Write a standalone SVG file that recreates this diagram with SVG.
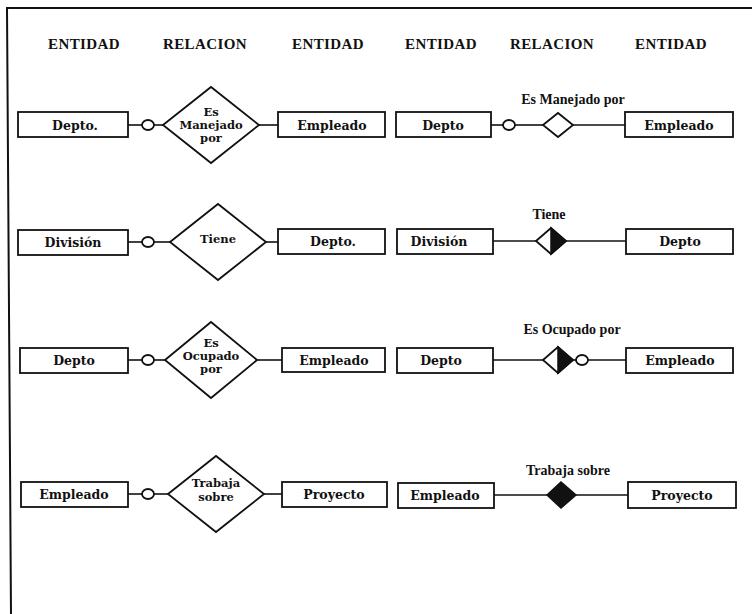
<svg xmlns="http://www.w3.org/2000/svg" width="752" height="614" viewBox="0 0 752 614">
  <style>
    .hdr { font-family: "Liberation Serif", "Times New Roman", serif; font-weight: bold; font-size: 15px; fill: #111; text-anchor: middle; letter-spacing: 0.4px; }
    .lbl { font-family: "DejaVu Serif", "Liberation Serif", serif; font-weight: bold; font-size: 12.5px; fill: #111; text-anchor: middle; }
    .dlbl { font-family: "DejaVu Serif", "Liberation Serif", serif; font-weight: bold; font-size: 11.5px; fill: #111; text-anchor: middle; }
    .rlbl { font-family: "Liberation Serif", "Times New Roman", serif; font-weight: bold; font-size: 14px; fill: #111; text-anchor: middle; }
    .box { fill: #fff; stroke: #111; stroke-width: 1.8; }
    .rel { fill: #fff; stroke: #111; stroke-width: 1.8; stroke-linejoin: miter; }
    .solid { fill: #111; stroke: #111; stroke-width: 1.5; }
    .opt { fill: #fff; stroke: #111; stroke-width: 1.8; }
    .ln { stroke: #111; stroke-width: 1.6; fill: none; }
    .frame { stroke: #111; stroke-width: 2; fill: none; }
  </style>

  <rect width="752" height="614" fill="#fff"/>

  <!-- page frame -->
  <path class="frame" d="M752 8 H7 L11 614"/>

  <!-- column headers -->
  <g id="headers">
    <text class="hdr" x="84" y="49">ENTIDAD</text>
    <text class="hdr" x="205" y="49">RELACION</text>
    <text class="hdr" x="328" y="49">ENTIDAD</text>
    <text class="hdr" x="441" y="49">ENTIDAD</text>
    <text class="hdr" x="552" y="49">RELACION</text>
    <text class="hdr" x="671" y="49">ENTIDAD</text>
  </g>

  <!-- connectors -->
  <g id="connectors">
    <!-- row 1 left -->
    <line class="ln" x1="128" y1="125" x2="142" y2="125"/>
    <line class="ln" x1="154" y1="125" x2="163" y2="125"/>
    <line class="ln" x1="259" y1="125" x2="278" y2="125"/>
    <!-- row 2 left -->
    <line class="ln" x1="128" y1="242" x2="142" y2="242"/>
    <line class="ln" x1="154" y1="242" x2="170" y2="242"/>
    <line class="ln" x1="266" y1="242" x2="278" y2="242"/>
    <!-- row 3 left -->
    <line class="ln" x1="128" y1="360" x2="142" y2="360"/>
    <line class="ln" x1="154" y1="360" x2="165" y2="360"/>
    <line class="ln" x1="257" y1="360" x2="282" y2="360"/>
    <!-- row 4 left -->
    <line class="ln" x1="128" y1="494" x2="142" y2="494"/>
    <line class="ln" x1="154" y1="494" x2="168" y2="494"/>
    <line class="ln" x1="264" y1="494" x2="282" y2="494"/>
    <!-- row 1 right -->
    <line class="ln" x1="491" y1="125" x2="503" y2="125"/>
    <line class="ln" x1="515" y1="125" x2="543" y2="125"/>
    <line class="ln" x1="573" y1="125" x2="625" y2="125"/>
    <!-- row 2 right -->
    <line class="ln" x1="493" y1="241" x2="536" y2="241"/>
    <line class="ln" x1="566" y1="241" x2="626" y2="241"/>
    <!-- row 3 right -->
    <line class="ln" x1="493" y1="360" x2="543" y2="360"/>
    <line class="ln" x1="573" y1="360" x2="576" y2="360"/>
    <line class="ln" x1="588" y1="360" x2="626" y2="360"/>
    <!-- row 4 right -->
    <line class="ln" x1="494" y1="495" x2="547" y2="495"/>
    <line class="ln" x1="576" y1="495" x2="628" y2="495"/>

    <!-- optionality circles -->
    <ellipse class="opt" cx="148" cy="125" rx="6" ry="5"/>
    <ellipse class="opt" cx="148" cy="242" rx="6" ry="5"/>
    <ellipse class="opt" cx="148" cy="360" rx="6" ry="5"/>
    <ellipse class="opt" cx="148" cy="494" rx="6" ry="5"/>
    <ellipse class="opt" cx="509" cy="125" rx="6" ry="5"/>
    <ellipse class="opt" cx="582" cy="360" rx="6" ry="5"/>
  </g>

  <!-- row 1, left notation -->
  <g id="l1-depto">
    <rect class="box" x="18" y="112" width="110" height="25"/>
    <text class="lbl" x="75" y="130">Depto.</text>
  </g>
  <g id="l1-rel">
    <polygon class="rel" points="163,125 211,87 259,125 211,163"/>
    <text class="dlbl" x="211" y="116">Es</text>
    <text class="dlbl" x="211" y="129">Manejado</text>
    <text class="dlbl" x="211" y="142">por</text>
  </g>
  <g id="l1-empleado">
    <rect class="box" x="278" y="112" width="107" height="25"/>
    <text class="lbl" x="332" y="130">Empleado</text>
  </g>

  <!-- row 2, left notation -->
  <g id="l2-division">
    <rect class="box" x="18" y="230" width="110" height="25"/>
    <text class="lbl" x="73" y="247">División</text>
  </g>
  <g id="l2-rel">
    <polygon class="rel" points="170,242 218,204 266,242 218,280"/>
    <text class="dlbl" x="218" y="243">Tiene</text>
  </g>
  <g id="l2-depto">
    <rect class="box" x="278" y="229" width="107" height="25"/>
    <text class="lbl" x="333" y="246">Depto.</text>
  </g>

  <!-- row 3, left notation -->
  <g id="l3-depto">
    <rect class="box" x="20" y="348" width="108" height="25"/>
    <text class="lbl" x="74" y="365">Depto</text>
  </g>
  <g id="l3-rel">
    <polygon class="rel" points="165,360 211,322 257,360 211,398"/>
    <text class="dlbl" x="211" y="347">Es</text>
    <text class="dlbl" x="211" y="360">Ocupado</text>
    <text class="dlbl" x="211" y="373">por</text>
  </g>
  <g id="l3-empleado">
    <rect class="box" x="282" y="348" width="103" height="24"/>
    <text class="lbl" x="334" y="365">Empleado</text>
  </g>

  <!-- row 4, left notation -->
  <g id="l4-empleado">
    <rect class="box" x="21" y="482" width="107" height="25"/>
    <text class="lbl" x="74" y="499">Empleado</text>
  </g>
  <g id="l4-rel">
    <polygon class="rel" points="168,494 216,456 264,494 216,532"/>
    <text class="dlbl" x="216" y="487">Trabaja</text>
    <text class="dlbl" x="216" y="501">sobre</text>
  </g>
  <g id="l4-proyecto">
    <rect class="box" x="282" y="482" width="105" height="25"/>
    <text class="lbl" x="334" y="499">Proyecto</text>
  </g>

  <!-- row 1, right notation -->
  <g id="r1-depto">
    <rect class="box" x="396" y="112" width="95" height="25"/>
    <text class="lbl" x="443" y="130">Depto</text>
  </g>
  <g id="r1-rel">
    <text class="rlbl" x="573" y="104">Es Manejado por</text>
    <polygon class="rel" points="543,125 558,113 573,125 558,137"/>
  </g>
  <g id="r1-empleado">
    <rect class="box" x="625" y="112" width="108" height="25"/>
    <text class="lbl" x="679" y="130">Empleado</text>
  </g>

  <!-- row 2, right notation -->
  <g id="r2-division">
    <rect class="box" x="397" y="229" width="96" height="25"/>
    <text class="lbl" x="439" y="246">División</text>
  </g>
  <g id="r2-rel">
    <text class="rlbl" x="549" y="219">Tiene</text>
    <polygon class="rel" points="536,241 551,228 566,241 551,254"/>
    <polygon class="solid" points="551,228 566,241 551,254"/>
  </g>
  <g id="r2-depto">
    <rect class="box" x="626" y="229" width="107" height="25"/>
    <text class="lbl" x="680" y="246">Depto</text>
  </g>

  <!-- row 3, right notation -->
  <g id="r3-depto">
    <rect class="box" x="397" y="348" width="96" height="25"/>
    <text class="lbl" x="441" y="365">Depto</text>
  </g>
  <g id="r3-rel">
    <text class="rlbl" x="572" y="334">Es Ocupado por</text>
    <polygon class="rel" points="543,360 558,347 573,360 558,373"/>
    <polygon class="solid" points="558,347 573,360 558,373"/>
  </g>
  <g id="r3-empleado">
    <rect class="box" x="626" y="348" width="107" height="25"/>
    <text class="lbl" x="680" y="365">Empleado</text>
  </g>

  <!-- row 4, right notation -->
  <g id="r4-empleado">
    <rect class="box" x="398" y="483" width="96" height="25"/>
    <text class="lbl" x="445" y="500">Empleado</text>
  </g>
  <g id="r4-rel">
    <text class="rlbl" x="568" y="475">Trabaja sobre</text>
    <polygon class="solid" points="547,495 561,482 576,495 561,508"/>
  </g>
  <g id="r4-proyecto">
    <rect class="box" x="628" y="482" width="108" height="26"/>
    <text class="lbl" x="682" y="500">Proyecto</text>
  </g>
</svg>
